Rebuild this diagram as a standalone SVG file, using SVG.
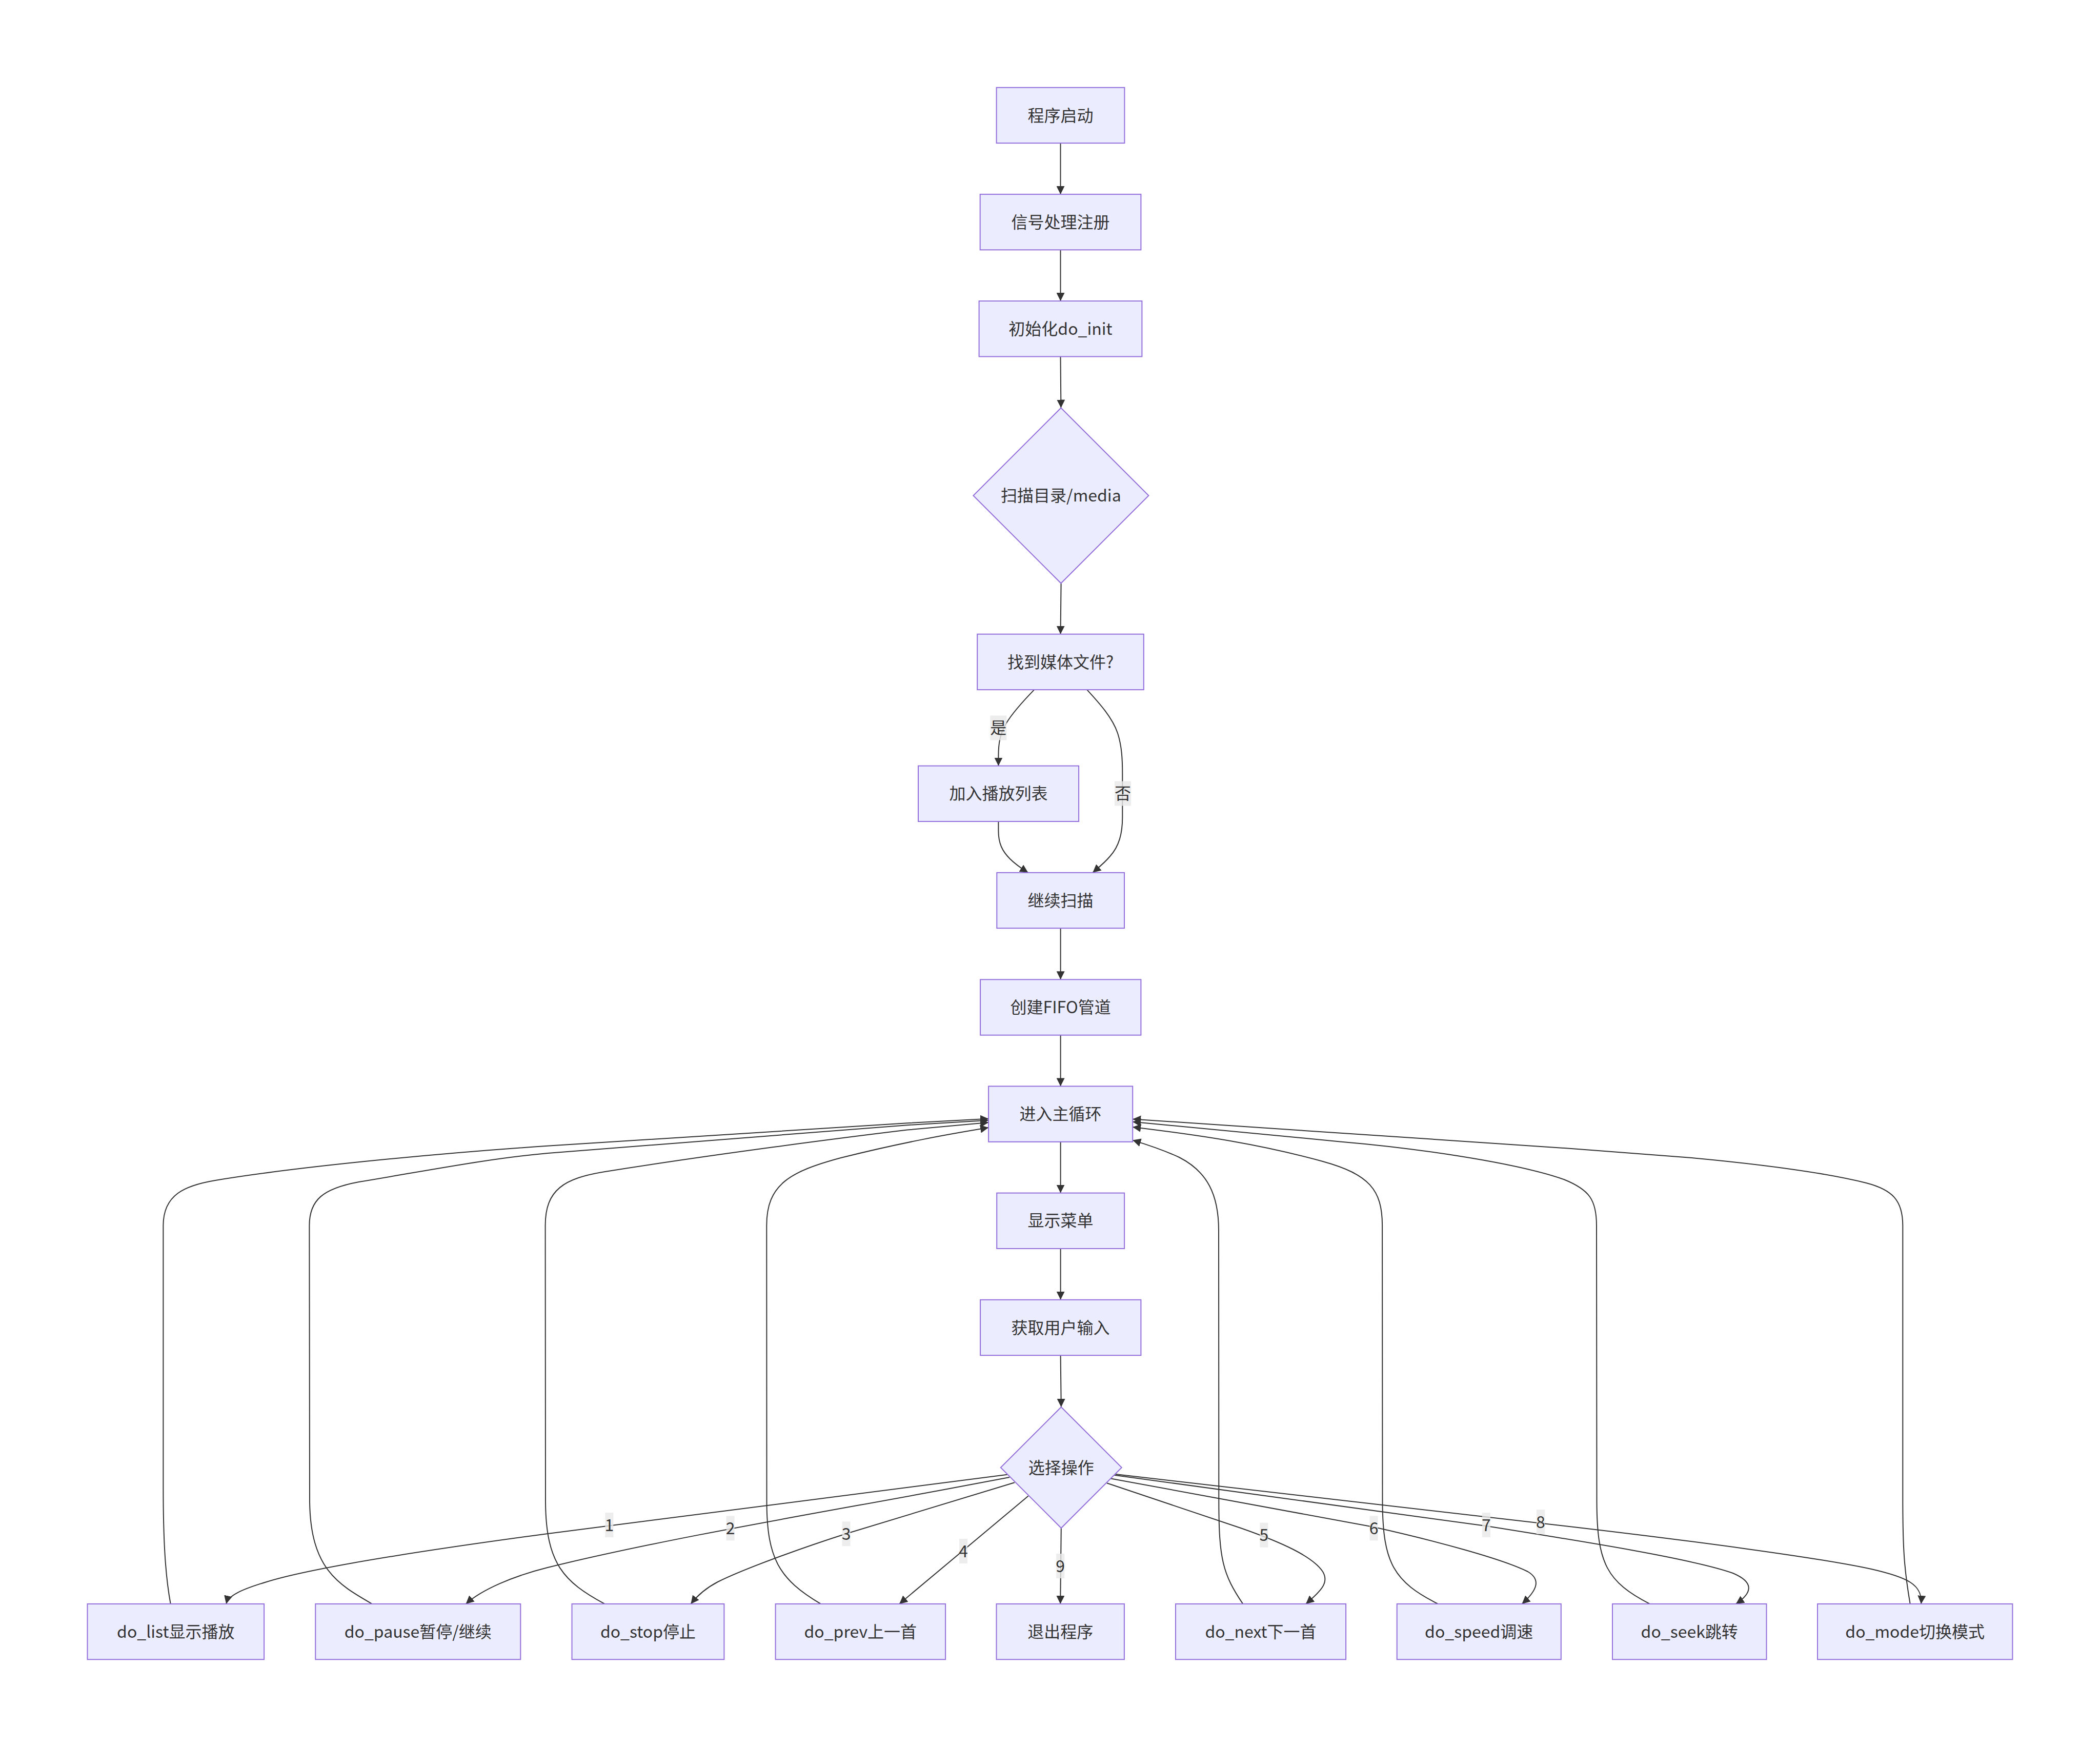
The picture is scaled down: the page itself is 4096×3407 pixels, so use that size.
<svg xmlns="http://www.w3.org/2000/svg" width="4096" height="3407" viewBox="0 0 4096 3407">
<style>
.node rect,.node polygon{fill:#ECECFF;stroke:#9370DB;stroke-width:2}
.node text,.elabel text{font-family:"Noto Sans CJK SC","Noto Sans",sans-serif;font-size:32px;fill:#333;text-anchor:middle}
.edge{fill:none;stroke:#333;stroke-width:2;marker-end:url(#arrow)}
.elabel rect{fill:#e8e8e8;fill-opacity:0.8}
</style>
<defs>
<marker id="arrow" viewBox="0 0 10 10" refX="10" refY="5" markerWidth="16" markerHeight="16" markerUnits="userSpaceOnUse" orient="auto">
<path d="M0,0 L10,5 L0,10 z" fill="#333"/>
</marker>
</defs>
<rect width="4096" height="3407" fill="#fff"/>
<g id="connectors">
<path class="edge" d="M2068.5,279.1 L2068.5,378.9"/>
<path class="edge" d="M2068.5,487.3 L2068.5,587"/>
<path class="edge" d="M2068.5,695.4 L2069.4,795.5"/>
<path class="edge" d="M2069.6,1137.5 L2068.5,1236.7"/>
<path class="edge" d="M2017.2,1345.1 C1995,1368 1975,1390 1963,1410 C1950,1432 1947.4,1450 1947.4,1475 L1947.4,1493.6"/>
<path class="edge" d="M2120.1,1345.1 C2145,1372 2170,1400 2180,1430 C2188,1455 2189.3,1480 2189.3,1508 L2189.3,1593.7 C2189.3,1625 2183,1650 2165,1670 C2155,1682 2145,1690 2131.3,1701.8"/>
<path class="edge" d="M1947.4,1602 L1947.4,1620 C1947.4,1645 1955,1660 1970,1675 C1982,1687 1993,1694 2005.3,1701.8"/>
<path class="edge" d="M2068.6,1810.2 L2068.6,1910.3"/>
<path class="edge" d="M2068.6,2018.7 L2068.6,2118.4"/>
<path class="edge" d="M2068.6,2226.8 L2068.6,2326.6"/>
<path class="edge" d="M2068.6,2435 L2068.6,2534.8"/>
<path class="edge" d="M2068.6,2643.2 L2069.8,2744"/>
<path class="edge" d="M1964.5,2875.8 L1068.4,2991 C800,3027 600,3060 520,3085 C470,3100 445,3112 441.2,3127.9"/>
<path class="edge" d="M1969,2881 L1836.3,2906.1 C1600,2950 1300,3000 1068,3057 C1000,3074 940,3100 908.6,3127.9"/>
<path class="edge" d="M1978.8,2891.3 L1650.6,2991 C1560,3020 1450,3060 1400,3085 C1375,3098 1360,3112 1347.4,3127.9"/>
<path class="edge" d="M2005.6,2917.5 L1754.1,3127.9"/>
<path class="edge" d="M2069.8,2980 L2068.2,3127.9"/>
<path class="edge" d="M2158.8,2892.2 L2420,2980 C2500,3008 2560,3035 2580,3065 C2592,3085 2580,3100 2547,3127.9"/>
<path class="edge" d="M2166.6,2883.4 L2679.6,2978 C2800,3005 2930,3040 2980,3065 C3005,3080 3000,3100 2968.5,3127.9"/>
<path class="edge" d="M2173.2,2876.7 L2899,2976 C3100,3008 3300,3040 3380,3068 C3420,3085 3420,3105 3385.8,3127.9"/>
<path class="edge" d="M2176.1,2875 L3071.6,2978.2 C3300,3005 3550,3038 3650,3060 C3720,3076 3750,3090 3747.1,3127.9"/>
<path class="edge" d="M332.7,3127.9 C322,3070 318.4,3000 318.4,2900 L318.4,2390 C318.4,2330 360,2312 420,2302 C600,2272 900,2246 1068,2234.8 L1769.5,2190.2 L1928.1,2181.8"/>
<path class="edge" d="M725.6,3127.9 C660,3090 606,3060 604,2930 L603.4,2390 C603.4,2340 630,2318 700,2305 C850,2280 950,2260 1068.4,2248.9 L1769.5,2194.2 L1928.1,2184.7"/>
<path class="edge" d="M1179.3,3127.9 C1100,3085 1065,3050 1064,2930 L1063.6,2390 C1063.6,2320 1100,2298 1180,2285 C1400,2250 1650,2218 1769.5,2203.6 L1928.1,2189.1"/>
<path class="edge" d="M1600.8,3127.9 C1520,3080 1496,3040 1495.5,2930 L1495.3,2390 C1495.3,2310 1540,2285 1640,2258 C1760,2228 1850,2212 1928.1,2199.1"/>
<path class="edge" d="M2424.2,3127.9 C2385,3070 2377.5,3040 2377.3,2930 L2377,2400 C2377,2330 2355,2285 2300,2257 C2270,2243 2240,2233 2209.2,2223.6"/>
<path class="edge" d="M2804.6,3127.9 C2720,3085 2697,3050 2696.5,2930 L2696.1,2390 C2696.1,2320 2670,2290 2580,2265 C2460,2232 2350,2215 2209.2,2198"/>
<path class="edge" d="M3217.7,3127.9 C3135,3085 3115,3050 3114.5,2930 L3114,2390 C3114,2340 3100,2320 3050,2300 C2950,2265 2750,2238 2613.7,2226.4 L2209.2,2187.7"/>
<path class="edge" d="M3725.7,3127.9 C3714,3060 3711.5,3020 3711.3,2930 L3711.3,2390 C3711.3,2340 3690,2320 3640,2307 C3560,2287 3450,2272 3300,2258 L3071.6,2240.4 L2209.2,2182.4"/>
</g>
<g id="edge-labels">
<g class="elabel"><rect x="1931.3" y="1395.5" width="32" height="48"/><text x="1947.3" y="1431">是</text></g>
<g class="elabel"><rect x="2174" y="1523.5" width="32" height="48"/><text x="2190" y="1559">否</text></g>
<g class="elabel"><rect x="1180.3" y="2950" width="16" height="48"/><text x="1188.3" y="2985.5">1</text></g>
<g class="elabel"><rect x="1416.6" y="2956.3" width="16" height="48"/><text x="1424.6" y="2991.8">2</text></g>
<g class="elabel"><rect x="1642.6" y="2967.3" width="16" height="48"/><text x="1650.6" y="3002.8">3</text></g>
<g class="elabel"><rect x="1871" y="3001" width="16" height="48"/><text x="1879" y="3036.5">4</text></g>
<g class="elabel"><rect x="2060.2" y="3030" width="16" height="48"/><text x="2068.2" y="3065.5">9</text></g>
<g class="elabel"><rect x="2457.3" y="2969.7" width="16" height="48"/><text x="2465.3" y="3005.2">5</text></g>
<g class="elabel"><rect x="2671.6" y="2956.3" width="16" height="48"/><text x="2679.6" y="2991.8">6</text></g>
<g class="elabel"><rect x="2891" y="2950" width="16" height="48"/><text x="2899" y="2985.5">7</text></g>
<g class="elabel"><rect x="2997" y="2944" width="16" height="48"/><text x="3005" y="2979.5">8</text></g>
</g>
<g id="n1" class="node"><rect x="1943.6" y="170.7" width="249.8" height="108.4"/><text x="2068.5" y="236.5">程序启动</text></g>
<g id="n2" class="node"><rect x="1911.7" y="378.9" width="313.7" height="108.4"/><text x="2068.5" y="444.7">信号处理注册</text></g>
<g id="n3" class="node"><rect x="1909.6" y="587" width="317.8" height="108.4"/><text x="2068.5" y="652.8">初始化do_init</text></g>
<g id="n4" class="node"><polygon points="2069.4,795.5 2240.4,966.5 2069.4,1137.5 1898.4,966.5"/><text x="2069.4" y="978">扫描目录/media</text></g>
<g id="n5" class="node"><rect x="1906.2" y="1236.7" width="324.6" height="108.4"/><text x="2068.5" y="1302.5">找到媒体文件?</text></g>
<g id="n6" class="node"><rect x="1791" y="1493.6" width="313.1" height="108.4"/><text x="1947.5" y="1559.4">加入播放列表</text></g>
<g id="n7" class="node"><rect x="1944.3" y="1701.8" width="248.7" height="108.4"/><text x="2068.6" y="1767.6">继续扫描</text></g>
<g id="n8" class="node"><rect x="1912.1" y="1910.3" width="313.3" height="108.4"/><text x="2068.6" y="1976.1">创建FIFO管道</text></g>
<g id="n9" class="node"><rect x="1928.1" y="2118.4" width="281.1" height="108.4"/><text x="2068.6" y="2184.2">进入主循环</text></g>
<g id="n10" class="node"><rect x="1944.2" y="2326.6" width="248.9" height="108.4"/><text x="2068.6" y="2392.4">显示菜单</text></g>
<g id="n11" class="node"><rect x="1912.1" y="2534.8" width="313.3" height="108.4"/><text x="2068.6" y="2600.6">获取用户输入</text></g>
<g id="n12" class="node"><polygon points="2069.8,2744 2187.8,2862 2069.8,2980 1951.8,2862"/><text x="2069.8" y="2873.5">选择操作</text></g>
<g id="n13" class="node"><rect x="170.5" y="3127.9" width="344.6" height="108.4"/><text x="342.8" y="3193.7">do_list显示播放</text></g>
<g id="n14" class="node"><rect x="615.3" y="3127.9" width="400" height="108.4"/><text x="815.3" y="3193.7">do_pause暂停/继续</text></g>
<g id="n15" class="node"><rect x="1115.5" y="3127.9" width="296.9" height="108.4"/><text x="1264" y="3193.7">do_stop停止</text></g>
<g id="n16" class="node"><rect x="1512.6" y="3127.9" width="331.5" height="108.4"/><text x="1678.3" y="3193.7">do_prev上一首</text></g>
<g id="n17" class="node"><rect x="1943.5" y="3127.9" width="249.4" height="108.4"/><text x="2068.2" y="3193.7">退出程序</text></g>
<g id="n18" class="node"><rect x="2293" y="3127.9" width="332.1" height="108.4"/><text x="2459" y="3193.7">do_next下一首</text></g>
<g id="n19" class="node"><rect x="2724.7" y="3127.9" width="320.1" height="108.4"/><text x="2884.7" y="3193.7">do_speed调速</text></g>
<g id="n20" class="node"><rect x="3145" y="3127.9" width="300.5" height="108.4"/><text x="3295.2" y="3193.7">do_seek跳转</text></g>
<g id="n21" class="node"><rect x="3545" y="3127.9" width="380.4" height="108.4"/><text x="3735.2" y="3193.7">do_mode切换模式</text></g>
</svg>
